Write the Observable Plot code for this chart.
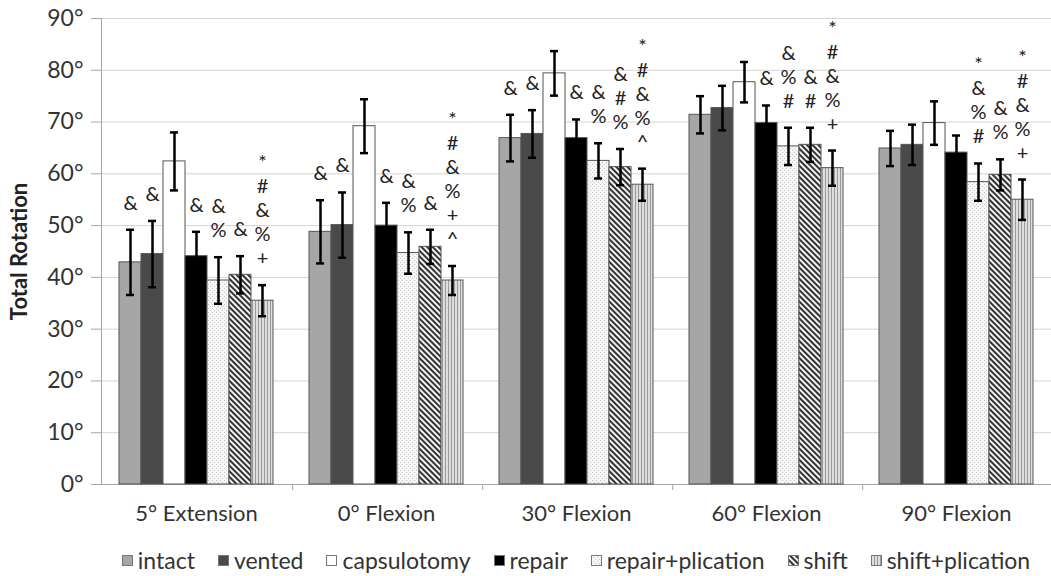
<!DOCTYPE html>
<html><head><meta charset="utf-8">
<script src="https://cdn.jsdelivr.net/npm/d3@7"></script>
<script src="https://cdn.jsdelivr.net/npm/@observablehq/plot@0.6"></script>
<style>
body{margin:0;background:#fff;font-family:Lato,sans-serif;}
#legend{display:flex;justify-content:center;align-items:center;padding-left:101px;padding-top:4px;height:32px;font-size:23px;color:#333;gap:23px;}
.item{display:flex;align-items:center;white-space:nowrap;}
.item svg{margin-right:5px;}
</style></head><body>
<svg width="0" height="0" style="position:absolute">
  <defs>
    <pattern id="dots" width="4" height="4" patternUnits="userSpaceOnUse">
      <rect width="4" height="4" fill="#f6f6f6"/>
      <rect x="0" y="0" width="1" height="1" fill="#c4c4c4"/>
      <rect x="2" y="2" width="1" height="1" fill="#c4c4c4"/>
    </pattern>
    <pattern id="diag" width="4" height="4" patternUnits="userSpaceOnUse" patternTransform="rotate(-45)">
      <rect width="4" height="4" fill="#f2f2f2"/>
      <rect x="0" y="0" width="2" height="4" fill="#333"/>
    </pattern>
    <pattern id="vert" width="3" height="3" patternUnits="userSpaceOnUse">
      <rect width="3" height="3" fill="#dedede"/>
      <rect x="0" y="0" width="1" height="3" fill="#9a9a9a"/>
    </pattern>
  </defs>
</svg>
<div id="chart"></div>
<div id="legend"></div>
<script>
const categories = ["5° Extension", "0° Flexion", "30° Flexion", "60° Flexion", "90° Flexion"];
const series = ["intact", "vented", "capsulotomy", "repair", "repair+plication", "shift", "shift+plication"];

const intact          = [42.9, 48.8, 66.9, 71.4, 64.9];
const vented          = [44.5, 50.1, 67.7, 72.7, 65.6];
const capsulotomy     = [62.4, 69.2, 79.4, 77.7, 69.8];
const repair          = [44.1, 50.0, 66.9, 69.8, 64.1];
const repairPlication = [39.4, 44.7, 62.5, 65.3, 58.4];
const shift           = [40.5, 45.9, 61.3, 65.6, 59.8];
const shiftPlication  = [35.5, 39.4, 57.9, 61.1, 55.0];

const intactErr          = [6.3, 6.1, 4.5, 3.6, 3.4];
const ventedErr          = [6.4, 6.3, 4.6, 4.3, 3.9];
const capsulotomyErr     = [5.6, 5.2, 4.3, 3.9, 4.2];
const repairErr          = [4.7, 4.4, 3.6, 3.4, 3.3];
const repairPlicationErr = [4.5, 4.0, 3.4, 3.6, 3.6];
const shiftErr           = [3.6, 3.3, 3.5, 3.3, 3.0];
const shiftPlicationErr  = [3.0, 2.8, 3.1, 3.4, 3.9];

const intactNotes          = ["&", "&", "&", "", ""];
const ventedNotes          = ["&", "&", "&", "", ""];
const capsulotomyNotes     = ["", "", "", "", ""];
const repairNotes          = ["&", "&", "&", "&", ""];
const repairPlicationNotes = ["&\n%", "&\n%", "&\n%", "&\n%\n#", "*\n&\n%\n#"];
const shiftNotes           = ["&", "&", "&\n#\n%", "&\n#", "&\n%"];
const shiftPlicationNotes  = ["*\n#\n&\n%\n+", "*\n#\n&\n%\n+\n^", "*\n#\n&\n%\n^", "*\n#\n&\n%\n+", "*\n#\n&\n%\n+"];

const yTicks = [0, 10, 20, 30, 40, 50, 60, 70, 80, 90];
const fills = ["#a6a6a6", "#4a4a4a", "#ffffff", "#000000", "url(#dots)", "url(#diag)", "url(#vert)"];

const means = [intact, vented, capsulotomy, repair, repairPlication, shift, shiftPlication];
const errs = [intactErr, ventedErr, capsulotomyErr, repairErr, repairPlicationErr, shiftErr, shiftPlicationErr];
const notes = [intactNotes, ventedNotes, capsulotomyNotes, repairNotes, repairPlicationNotes, shiftNotes, shiftPlicationNotes];

const rows = [];
categories.forEach((c, i) => series.forEach((s, j) =>
  rows.push({cat: c, series: s, value: means[j][i], err: errs[j][i], note: notes[j][i]})));

const W = 1051, H = 540, ML = 101, MR = 0, MT = 18, MB = 56;
const XPAD = 0.74;
const facetW = (W - ML - MR) / categories.length;
const xStep = facetW / (series.length + 2 * XPAD);

const chart = Plot.plot({
  width: W, height: H,
  marginLeft: ML, marginRight: MR, marginTop: MT, marginBottom: MB,
  style: {fontFamily: "Lato, sans-serif", fontSize: "22px", color: "#333", background: "white"},
  fx: {domain: categories, padding: 0, label: null, axis: null},
  x: {domain: series, paddingInner: 0, paddingOuter: XPAD, axis: null},
  y: {domain: [0, 90], axis: null},
  color: {domain: series, range: fills},
  marks: [
    Plot.gridY(yTicks, {stroke: "#d4d4d4", strokeOpacity: 1}),
    Plot.ruleY([0], {stroke: "#a6a6a6"}),
    Plot.frame({anchor: "left", facetAnchor: "left", stroke: "#a6a6a6"}),
    Plot.axisY(yTicks, {tickFormat: d => d + "°", tickSize: 10, tickPadding: 8, stroke: "#a6a6a6", fill: "#333", label: null, fontSize: 23}),
    Plot.axisFx({anchor: "bottom", tickSize: 0, tickPadding: 21, label: null, fontSize: 22, fill: "#333"}),
    Plot.text(["Total Rotation"], {frameAnchor: "left", facetAnchor: "left", y: () => 45, rotate: -90, textAnchor: "middle", dx: -82, fontWeight: "bold", fontSize: 22, fill: "#222"}),
    Plot.ruleX(categories.slice(1), {fx: d => d, x: () => series[0], y1: () => 0, y2: () => 0, insetBottom: -6, dx: -(0.5 + XPAD) * xStep, stroke: "#a6a6a6"}),
    Plot.barY(rows, {fx: "cat", x: "series", y: "value", fill: "series", stroke: "#555", strokeWidth: 1}),
    Plot.ruleX(rows, {fx: "cat", x: "series", y1: d => d.value - d.err, y2: d => d.value + d.err, stroke: "#000", strokeWidth: 2.5}),
    Plot.tickY(rows, {fx: "cat", x: "series", y: d => d.value - d.err, insetLeft: 7, insetRight: 7, stroke: "#000", strokeWidth: 2.5}),
    Plot.tickY(rows, {fx: "cat", x: "series", y: d => d.value + d.err, insetLeft: 7, insetRight: 7, stroke: "#000", strokeWidth: 2.5}),
    Plot.text(rows.filter(d => d.note), {fx: "cat", x: "series", y: d => d.value + d.err, text: "note", lineAnchor: "bottom", lineHeight: 1.2, fontSize: 20, dy: -20, fill: "#222"})
  ]
});
document.getElementById("chart").appendChild(chart);

const legend = document.getElementById("legend");
series.forEach((s, j) => {
  const item = document.createElement("div");
  item.className = "item";
  item.innerHTML = `<svg width="11" height="11"><rect x="0.5" y="0.5" width="10" height="10" fill="${fills[j]}" stroke="#777"/></svg><span>${s}</span>`;
  legend.appendChild(item);
});
</script>
</body></html>
